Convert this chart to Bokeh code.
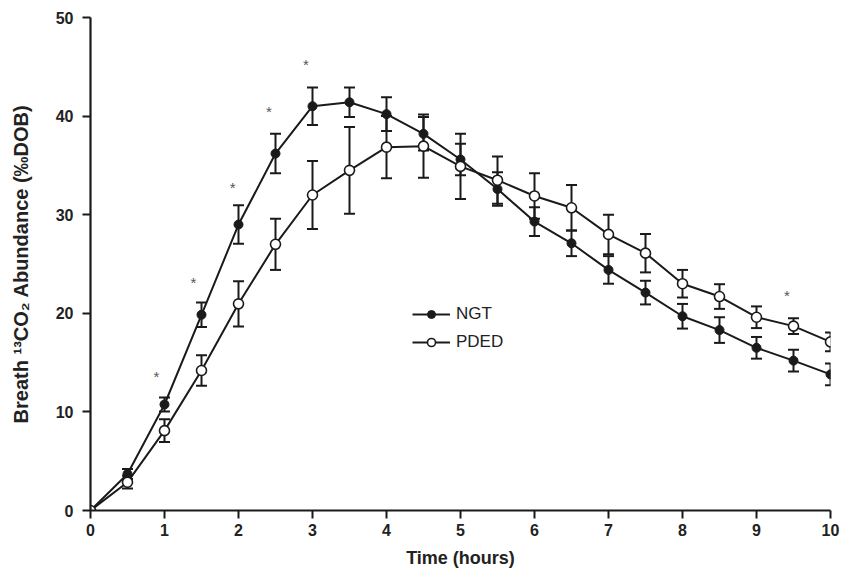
import numpy as np
from bokeh.plotting import figure
from bokeh.models import (ColumnDataSource, Whisker, TeeHead, Legend, LegendItem,
                          Range1d, FixedTicker)
from bokeh.core.properties import value
from bokeh.embed import file_html
from bokeh.resources import INLINE

hours = [0, 0.5, 1, 1.5, 2, 2.5, 3, 3.5, 4, 4.5, 5, 5.5, 6, 6.5, 7, 7.5, 8, 8.5, 9, 9.5, 10]
ngt = [0, 3.7, 10.75, 19.85, 29.0, 36.2, 41.0, 41.4, 40.2, 38.2, 35.6, 32.6, 29.3, 27.1,
       24.4, 22.1, 19.7, 18.3, 16.5, 15.2, 13.8]
ngt_err = [0, 0.5, 0.7, 1.25, 1.95, 2.0, 1.9, 1.5, 1.7, 1.7, 1.6, 1.7, 1.45, 1.3,
           1.4, 1.2, 1.25, 1.3, 1.1, 1.1, 1.1]
pded = [0, 2.87, 8.1, 14.2, 20.96, 27.0, 32.0, 34.5, 36.85, 36.95, 34.9, 33.5, 31.9, 30.7,
        28.0, 26.1, 23.0, 21.7, 19.6, 18.7, 17.1]
pded_err = [0, 0.65, 1.15, 1.55, 2.3, 2.6, 3.45, 4.4, 3.15, 3.2, 3.3, 2.4, 2.3, 2.3,
            2.0, 1.95, 1.4, 1.25, 1.1, 0.8, 0.95]

star_x = [0.89, 1.39, 1.92, 2.41, 2.91, 9.41]
star_y = [13.9, 23.4, 33.1, 40.8, 45.5, 22.1]

x_ticks = [0, 1, 2, 3, 4, 5, 6, 7, 8, 9, 10]
y_ticks = [0, 10, 20, 30, 40, 50]

x_title = "Time (hours)"
y_title = "Breath \u00b9\u00b3CO\u2082 Abundance (\u2030DOB)"
series_names = ["NGT", "PDED"]

FONT = "Liberation Sans"
INK = "#1a1a1a"

p = figure(width=840, height=572, output_backend="svg", toolbar_location=None,
           x_range=Range1d(0, 10), y_range=Range1d(0, 50),
           min_border_left=90, min_border_right=10, min_border_top=17, min_border_bottom=62)
p.outline_line_color = None
p.grid.visible = False
p.background_fill_color = "white"

for ax in (p.xaxis[0], p.yaxis[0]):
    ax.axis_line_width = 2.2
    ax.axis_line_color = INK
    ax.major_tick_line_width = 2
    ax.major_tick_line_color = INK
    ax.major_tick_out = 8
    ax.major_tick_in = 0
    ax.minor_tick_line_color = None
    ax.major_label_text_font = FONT
    ax.major_label_text_font_style = "bold"
    ax.major_label_text_font_size = "16px"
    ax.major_label_text_color = "#222222"
    ax.axis_label_text_font = FONT
    ax.axis_label_text_font_style = "bold"
    ax.axis_label_text_color = "#222222"

p.xaxis.ticker = FixedTicker(ticks=x_ticks)
p.yaxis.ticker = FixedTicker(ticks=y_ticks)
p.xaxis.major_label_standoff = 5
p.yaxis.major_label_standoff = 9

p.xaxis.axis_label = x_title
p.xaxis.axis_label_text_font_size = "18px"
p.xaxis.axis_label_standoff = 9

p.yaxis.axis_label = y_title
p.yaxis.axis_label_text_font_size = "20px"
p.yaxis.axis_label_standoff = 21

src = ColumnDataSource(dict(
    t=hours, ngt=ngt, pded=pded,
    ngt_up=[v + e for v, e in zip(ngt, ngt_err)], ngt_lo=[v - e for v, e in zip(ngt, ngt_err)],
    pded_up=[v + e for v, e in zip(pded, pded_err)], pded_lo=[v - e for v, e in zip(pded, pded_err)],
))

for up, lo in (("ngt_up", "ngt_lo"), ("pded_up", "pded_lo")):
    w = Whisker(source=src, base="t", upper=up, lower=lo, dimension="height",
                line_color=INK, line_width=2, level="underlay",
                upper_head=TeeHead(size=11, line_width=2, line_color=INK),
                lower_head=TeeHead(size=11, line_width=2, line_color=INK))
    p.add_layout(w)

l1 = p.line("t", "ngt", source=src, line_color=INK, line_width=2)
l2 = p.line("t", "pded", source=src, line_color=INK, line_width=2)
s1 = p.scatter("t", "ngt", source=src, size=9, fill_color=INK, line_color=INK, line_width=1)
s2 = p.scatter("t", "pded", source=src, size=10, fill_color="white", line_color=INK, line_width=1.6)

star_src = ColumnDataSource(dict(x=star_x, y=star_y, s=["*"] * len(star_x)))
p.text("x", "y", text="s", source=star_src, text_font=value(FONT), text_font_size="15px",
       text_color="#555555", text_align="center", text_baseline="middle", y_offset=3)

legend = Legend(items=[LegendItem(label=series_names[0], renderers=[l1, s1]),
                       LegendItem(label=series_names[1], renderers=[l2, s2])],
                location=(322, 158), padding=0, margin=0, spacing=8,
                glyph_width=38, glyph_height=20, label_height=20, label_standoff=6,
                label_text_font=FONT, label_text_font_size="17px", label_text_color="#222222",
                border_line_color=None, background_fill_alpha=0)
p.add_layout(legend)

open("out.html", "w").write(file_html(p, INLINE))
